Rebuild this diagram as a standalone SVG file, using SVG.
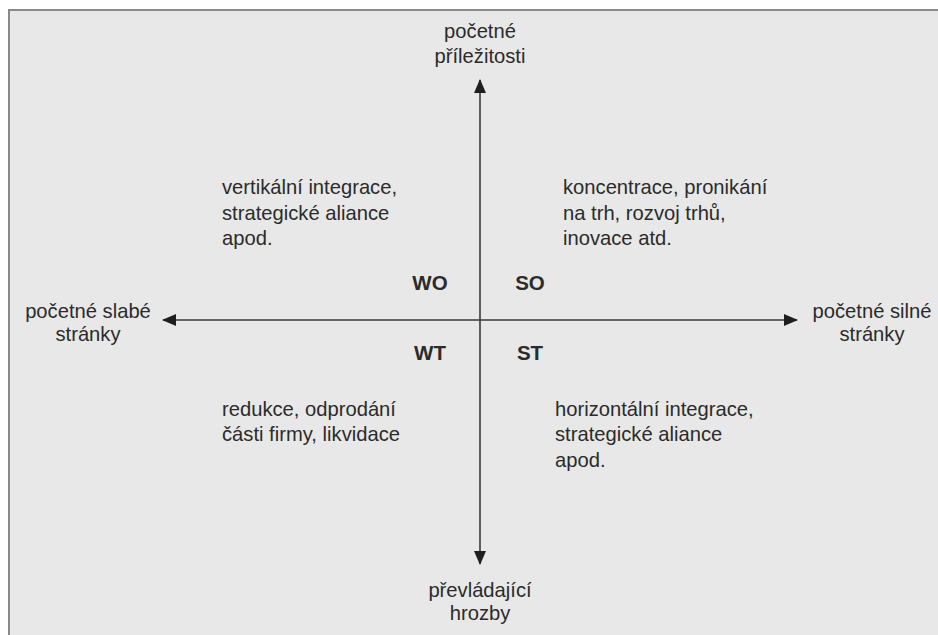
<svg xmlns="http://www.w3.org/2000/svg" width="938" height="635" viewBox="0 0 938 635">
<defs>
<style>
text{font-family:"Liberation Sans",Arial,sans-serif;font-size:20.2px;fill:#2b2b2b}
.c{text-anchor:middle}
.b{font-weight:bold;font-size:20.5px}
.ax{stroke:#3a3a3a;stroke-width:1.6;fill:none}
</style>
<marker id="ah" viewBox="0 0 14 12" refX="13" refY="6" markerWidth="14" markerHeight="12" markerUnits="userSpaceOnUse" orient="auto">
<path d="M0,0 L14,6 L0,12 Z" fill="#1e1e1e"/>
</marker>
</defs>
<rect x="0" y="0" width="938" height="635" fill="#ffffff"/>
<rect x="9" y="10" width="940" height="640" fill="#e8e8e8" stroke="#8a8a8a" stroke-width="2"/>
<g id="connectors">
<line class="ax" x1="480" y1="320" x2="480" y2="80" marker-end="url(#ah)"/>
<line class="ax" x1="480" y1="320" x2="480" y2="564" marker-end="url(#ah)"/>
<line class="ax" x1="480" y1="320" x2="163" y2="320" marker-end="url(#ah)"/>
<line class="ax" x1="480" y1="320" x2="797" y2="320" marker-end="url(#ah)"/>
</g>
<g id="top"><text class="c" x="480" y="38">početné</text><text class="c" x="480" y="63">příležitosti</text></g>
<g id="left"><text class="c" x="88" y="318">početné slabé</text><text class="c" x="88" y="341">stránky</text></g>
<g id="right"><text class="c" x="872" y="318">početné silné</text><text class="c" x="872" y="341">stránky</text></g>
<g id="bottom"><text class="c" x="480" y="597">převládající</text><text class="c" x="480" y="620">hrozby</text></g>
<g id="WO"><text class="c b" x="430" y="290">WO</text></g>
<g id="SO"><text class="c b" x="530" y="290">SO</text></g>
<g id="WT"><text class="c b" x="430" y="360">WT</text></g>
<g id="ST"><text class="c b" x="530" y="360">ST</text></g>
<g id="q-wo"><text x="222" y="194">vertikální integrace,</text><text x="222" y="220">strategické aliance</text><text x="222" y="245">apod.</text></g>
<g id="q-so"><text x="563" y="194">koncentrace, pronikání</text><text x="563" y="220">na trh, rozvoj trhů,</text><text x="563" y="245">inovace atd.</text></g>
<g id="q-wt"><text x="222" y="416">redukce, odprodání</text><text x="222" y="441">části firmy, likvidace</text></g>
<g id="q-st"><text x="555" y="416">horizontální integrace,</text><text x="555" y="441">strategické aliance</text><text x="555" y="467">apod.</text></g>
</svg>
